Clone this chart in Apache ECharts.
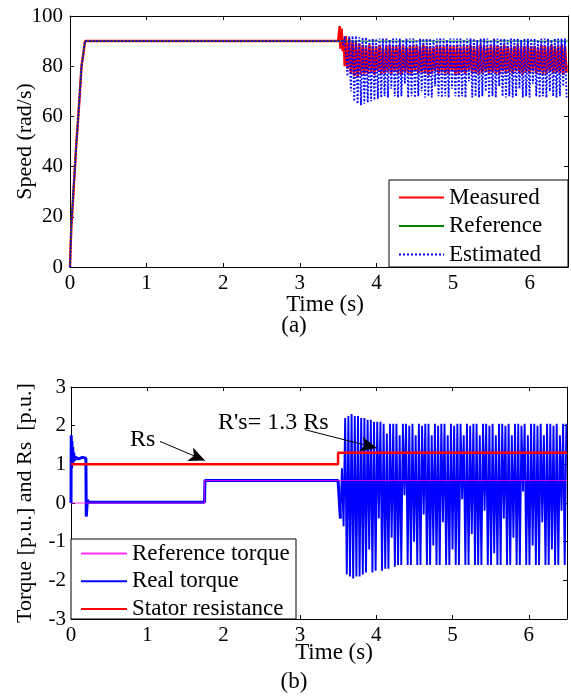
<!DOCTYPE html>
<html>
<head>
<meta charset="utf-8">
<script src="https://cdn.jsdelivr.net/npm/echarts@6/dist/echarts.min.js"></script>
<style>
html, body { margin: 0; padding: 0; background: #fff; }
#chart { width: 571px; height: 696px; }
</style>
</head>
<body>
<div id="chart"></div>
<script>
// ---------- (a) rotor speed, rad/s ----------
const speedReference = [[0, 0], [0.02, 20], [0.065, 40], [0.108, 60], [0.15, 80], [0.196, 90], [6.5, 90]];
const speedMeasuredHead = [[0, 0], [0.01, 10], [0.02, 18], [0.03, 22], [0.045, 30], [0.065, 40], [0.08, 48],
  [0.108, 60], [0.13, 70], [0.15, 80], [0.17, 84], [0.196, 90], [3.5, 90], [3.52, 96], [3.53, 87],
  [3.545, 95], [3.56, 86], [3.575, 91], [3.585, 80]];
const speedEstimatedHead = [[0, 0], [0.012, 12], [0.022, 19], [0.035, 25], [0.05, 33], [0.065, 40], [0.085, 50],
  [0.108, 60], [0.128, 69], [0.15, 80], [0.175, 85], [0.196, 90], [3.5, 90], [3.55, 90], [3.57, 88], [3.585, 92]];
// sampled oscillation after the resistance change (start time, sample step in s)
const speedTailStart = 3.6;
const speedTailStep = 0.022;
const speedMeasuredTail = [
  92, 79, 91, 77, 90, 76, 89.5, 76, 89, 76.5, 88.5, 77,
  88, 77, 88.5, 77.5, 88, 76.5, 88, 78, 88.5, 77, 87.5, 77,
  88, 77.5, 88.5, 77, 88, 78, 88, 77, 88.5, 76.5, 88, 77.5,
  87.5, 77, 88, 77, 88.5, 78, 88, 77, 88, 77.5, 88.5, 77,
  88, 76.5, 88, 77, 87.5, 78, 88.5, 77, 88, 77.5, 88, 77,
  88.5, 77, 88, 78, 88, 76.5, 88.5, 77, 87.5, 77.5, 88, 77,
  88, 78, 88.5, 77, 88, 77.5, 88, 76.5, 88.5, 77, 88, 78,
  87.5, 77, 88, 77.5, 88.5, 77, 88, 76.5, 88, 78, 88.5, 77,
  88, 77.5, 87.5, 77, 88, 78, 88.5, 77, 88, 76.5, 88, 77.5,
  88.5, 77, 88, 78, 88, 77, 87.5, 77.5, 88.5, 76.5, 88, 77,
  88, 78, 88.5, 77, 88, 77.5, 88, 77, 88.5, 76.5, 88, 77.5];
const speedEstimatedTail = [
  92, 76, 92, 70, 92, 66, 92, 65, 91.5, 64.5, 91.5, 65,
  91.5, 65.5, 91, 66, 91, 66.5, 91, 67, 91, 67.5, 91, 68,
  91, 67.5, 90.5, 71, 91, 68, 91, 67.5, 91, 68, 90.5, 73,
  91, 67.5, 91, 68, 91, 67.5, 90.5, 68, 91, 70, 91, 67.5,
  91, 68, 91, 67.5, 90.5, 72, 91, 68, 91, 67.5, 91, 68,
  90.5, 67.5, 91, 71, 91, 68, 91, 67.5, 91, 68, 90.5, 67.5,
  91, 74, 91, 67.5, 91, 68, 90.5, 67.5, 91, 68, 91, 70,
  91, 67.5, 90.5, 68, 91, 67.5, 91, 72, 91, 68, 91, 67.5,
  90.5, 68, 91, 67.5, 91, 68, 91, 71, 90.5, 67.5, 91, 68,
  91, 67.5, 91, 73, 91, 68, 90.5, 67.5, 91, 68, 91, 67.5,
  91, 70, 90.5, 68, 91, 67.5, 91, 68, 91, 72, 91, 67.5];

// ---------- (b) torque and stator resistance, p.u. ----------
const torqueReference = [[0, 0], [1.75, 0], [1.75, 0.58], [6.5, 0.58]];
const torqueRealHead = [[0, 0], [0.003, 1.75], [0.008, 0.9], [0.012, 1.6], [0.017, 1.0], [0.022, 1.45],
  [0.028, 1.05], [0.035, 1.3], [0.045, 1.1], [0.06, 1.18], [0.1, 1.14], [0.15, 1.18], [0.195, 1.16],
  [0.2, -0.35], [0.215, 0.08], [0.23, 0.02], [1.75, 0.02], [1.755, 0.58], [3.5, 0.58], [3.53, -0.4]];
const torqueTailStart = 3.53;
const torqueTailStep = 0.021;
const torqueRealTail = [-0.4, 0.9, -0.6, 2.2, -1.85, 2.25, -1.9, 2.3, -1.95, 2.25,
  -1.9, 2.25, -1.9, 2.2, -1.85, 2.2, -1.8, 2.15, -1.2, 2.15,
  -1.8, 2.1, -1.75, 2.1, -0.4, 2.1, -1.75, 2.05, -1.7, 1.8,
  -1.7, 2.05, -0.9, 2.05, -1.65, 2.05, -1.6, 1.75, -1.6, 2.05,
  0.2, 2.05, -1.6, 2.0, -1.6, 2.05, -1.0, 1.75, -1.6, 2.05,
  -1.6, 2.0, -0.3, 2.05, -1.6, 2.05, -1.6, 1.75, -1.1, 2.05,
  -1.6, 2.0, -1.6, 2.05, -0.5, 2.05, -1.6, 1.75, -1.6, 2.05,
  -1.2, 2.0, -1.6, 2.05, -1.6, 2.05, 0.1, 1.75, -1.6, 2.05,
  -1.6, 2.0, -0.8, 2.05, -1.6, 2.05, -1.6, 1.75, -1.6, 2.05,
  -0.2, 2.05, -1.6, 2.0, -1.6, 2.05, -1.3, 1.75, -1.6, 2.05,
  -1.6, 2.05, -0.4, 2.0, -1.6, 2.05, -1.6, 1.75, -0.9, 2.05,
  -1.6, 2.05, -1.6, 2.0, 0.3, 2.05, -1.6, 1.75, -1.6, 2.05,
  -1.1, 2.05, -1.6, 2.0, -1.6, 2.05, -0.5, 1.75, -1.6, 2.05,
  -1.6, 2.05, -1.2, 2.0, -1.6, 2.05, -1.6, 1.75, -0.2, 2.05,
  -1.6, 2.05];
const statorResistance = [[0, 1], [3.5, 1], [3.5, 1.3], [6.5, 1.3]];

// arrows of the annotations, in data units of plot (b)
const rsArrow = [[1.166, 1.593], [1.755, 1.10]];
const rsNewArrow = [[3.065, 1.896], [4.004, 1.423]];

// ---------- helpers ----------
function sampled(start, step, values) {
  return values.map((v, i) => [+(start + i * step).toFixed(4), v]);
}

const FONT = 'Liberation Serif';
const BLACK = '#000';

function mainX(gridIndex) {
  return {
    gridIndex, type: 'value', min: 0, max: 6.5, interval: 1,
    axisLine: { show: true, onZero: false, lineStyle: { color: BLACK, width: 1 } },
    axisTick: { show: true, inside: true, length: 4, lineStyle: { color: BLACK } },
    axisLabel: { show: true, showMaxLabel: false, color: BLACK, fontFamily: FONT, fontSize: 21, margin: 6 },
    splitLine: { show: false }
  };
}
function mirrorX(gridIndex) {
  return {
    gridIndex, type: 'value', position: 'top', min: 0, max: 6.5, interval: 1,
    axisLine: { show: true, onZero: false, lineStyle: { color: BLACK, width: 1 } },
    axisTick: { show: true, inside: true, length: 4, lineStyle: { color: BLACK } },
    axisLabel: { show: false }, splitLine: { show: false }
  };
}
function mainY(gridIndex, min, max, interval, name, gap, margin) {
  return {
    gridIndex, type: 'value', min, max, interval,
    name, nameLocation: 'middle', nameGap: gap, nameMoveOverlap: false,
    nameTextStyle: { color: BLACK, fontFamily: FONT, fontSize: 22 },
    axisLine: { show: true, onZero: false, lineStyle: { color: BLACK, width: 1 } },
    axisTick: { show: true, inside: true, length: 4, lineStyle: { color: BLACK } },
    axisLabel: { show: true, color: BLACK, fontFamily: FONT, fontSize: 21, margin },
    splitLine: { show: false }
  };
}
function mirrorY(gridIndex, min, max, interval) {
  return {
    gridIndex, type: 'value', position: 'right', min, max, interval,
    axisLine: { show: true, onZero: false, lineStyle: { color: BLACK, width: 1 } },
    axisTick: { show: true, inside: true, length: 4, lineStyle: { color: BLACK } },
    axisLabel: { show: false }, splitLine: { show: false }
  };
}
function line(name, xi, yi, data, color, width, type, z, opacity) {
  return {
    name, type: 'line', xAxisIndex: xi, yAxisIndex: yi, data,
    symbol: 'none', showSymbol: false, animation: false, z: z || 2,
    lineStyle: { color, width, type: type || 'solid', opacity: opacity == null ? 1 : opacity },
    itemStyle: { color },
    emphasis: { disabled: true }
  };
}

const chart = echarts.init(document.getElementById('chart'), null, { renderer: 'canvas' });

const legendText = { color: BLACK, fontFamily: FONT, fontSize: 23, lineHeight: 22 };

const resistanceSeries = line('Stator resistance', 2, 2, statorResistance, '#ff0000', 2.5, 'solid', 4);
resistanceSeries.markLine = {
  silent: true, animation: false,
  symbol: ['none', 'arrow'], symbolSize: [11, 16],
  label: { show: false },
  lineStyle: { color: BLACK, width: 1, type: 'solid' },
  itemStyle: { color: BLACK },
  data: [
    [{ coord: rsArrow[0] }, { coord: rsArrow[1] }],
    [{ coord: rsNewArrow[0] }, { coord: rsNewArrow[1] }]
  ]
};

chart.setOption({
  backgroundColor: '#fff',
  animation: false,
  textStyle: { fontFamily: FONT },
  grid: [
    { left: 70, top: 16, width: 498, height: 251, containLabel: false, outerBoundsMode: 'none' },
    { left: 71, top: 387, width: 496, height: 232, containLabel: false, outerBoundsMode: 'none' }
  ],
  xAxis: [mainX(0), mirrorX(0), mainX(1), mirrorX(1)],
  yAxis: [
    mainY(0, 0, 100, 20, 'Speed (rad/s)', 34, 7),
    mirrorY(0, 0, 100, 20),
    mainY(1, -3, 3, 1, 'Torque [p.u.] and Rs  [p.u.]', 35, 5),
    mirrorY(1, -3, 3, 1)
  ],
  legend: [
    {
      data: ['Measured', 'Reference', 'Estimated'],
      orient: 'vertical', left: 398, top: 186, z: 10,
      itemWidth: 45, itemHeight: 14, itemGap: 5.5, padding: 0,
      itemStyle: { opacity: 0 },
      selectedMode: false, textStyle: legendText
    },
    {
      data: ['Reference torque', 'Real torque', 'Stator resistance'],
      orient: 'vertical', left: 80, top: 542, z: 10,
      itemWidth: 46, itemHeight: 14, itemGap: 4.7, padding: 0,
      itemStyle: { opacity: 0 },
      selectedMode: false, textStyle: legendText
    }
  ],
  graphic: [
    { type: 'rect', z: 8, shape: { x: 389, y: 180, width: 179, height: 87 },
      style: { fill: '#fff', stroke: BLACK, lineWidth: 1 } },
    { type: 'rect', z: 8, shape: { x: 71, y: 539, width: 225, height: 80 },
      style: { fill: '#fff', stroke: BLACK, lineWidth: 1 } },
    { type: 'text', z: 9, x: 325, y: 305, style: { text: 'Time (s)', fill: BLACK, font: '23px "Liberation Serif"', textAlign: 'center', textVerticalAlign: 'middle' } },
    { type: 'text', z: 9, x: 294, y: 326, style: { text: '(a)', fill: BLACK, font: '23px "Liberation Serif"', textAlign: 'center', textVerticalAlign: 'middle' } },
    { type: 'text', z: 9, x: 334, y: 653, style: { text: 'Time (s)', fill: BLACK, font: '23px "Liberation Serif"', textAlign: 'center', textVerticalAlign: 'middle' } },
    { type: 'text', z: 9, x: 294, y: 682, style: { text: '(b)', fill: BLACK, font: '23px "Liberation Serif"', textAlign: 'center', textVerticalAlign: 'middle' } },
    { type: 'text', z: 9, x: 130, y: 440, style: { text: 'Rs', fill: BLACK, font: '24px "Liberation Serif"', textAlign: 'left', textVerticalAlign: 'middle' } },
    { type: 'text', z: 9, x: 218, y: 423, style: { text: "R's= 1.3 Rs", fill: BLACK, font: '24px "Liberation Serif"', textAlign: 'left', textVerticalAlign: 'middle' } }
  ],
  series: [
    line('Measured', 0, 0, speedMeasuredHead.concat(sampled(speedTailStart, speedTailStep, speedMeasuredTail)), '#ff0000', 2.5, 'solid', 2),
    line('Reference', 0, 0, speedReference, '#008000', 1, 'solid', 3),
    line('Estimated', 0, 0, speedEstimatedHead.concat(sampled(speedTailStart, speedTailStep, speedEstimatedTail)), '#0000ff', 1.8, 'dotted', 4),
    line('Real torque', 2, 2, torqueRealHead, '#0000ff', 3, 'solid', 2),
    line('Real torque', 2, 2, sampled(torqueTailStart, torqueTailStep, torqueRealTail), '#0000ff', 1.9, 'solid', 2),
    line('Reference torque', 2, 2, torqueReference, '#ff00ff', 1, 'solid', 3, 0.8),
    resistanceSeries
  ]
});
</script>
</body>
</html>
